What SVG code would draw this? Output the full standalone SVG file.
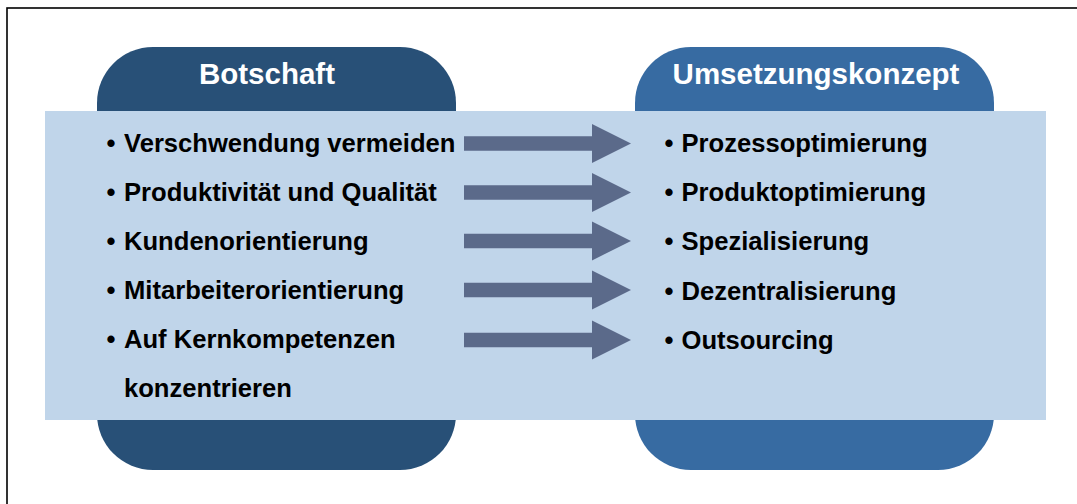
<svg xmlns="http://www.w3.org/2000/svg" width="1077" height="504" viewBox="0 0 1077 504">
<defs>
<style>
.item{font-family:"Liberation Sans",Arial,sans-serif;font-weight:bold;font-size:25.6px;fill:#000}
.title{font-family:"Liberation Sans",Arial,sans-serif;font-weight:bold;font-size:29.5px;fill:#fff}
.arrow{fill:#5B6A8A}
</style>
<path id="arr" d="M0,-7.3 H128 V-19.4 L167,0 L128,19.4 V7.3 H0 Z"/>
</defs>
<rect x="7" y="8" width="1080" height="510" fill="#fff" stroke="#000" stroke-width="1.6"/>
<g id="botschaft">
<rect x="97" y="47" width="359" height="423" rx="56" ry="56" fill="#285077"/>
</g>
<g id="umsetzungskonzept">
<rect x="635" y="47" width="359" height="423" rx="56" ry="56" fill="#376BA2"/>
</g>
<g id="band">
<rect x="45" y="111" width="1001" height="309" fill="#C0D5EA"/>
</g>
<text class="title" x="267" y="84" text-anchor="middle">Botschaft</text>
<text class="title" x="816" y="83.5" text-anchor="middle">Umsetzungskonzept</text>
<g id="left-items">
<text class="item" x="106.5" y="152">•<tspan x="124">Verschwendung vermeiden</tspan></text>
<text class="item" x="106.5" y="201">•<tspan x="124">Produktivität und Qualität</tspan></text>
<text class="item" x="106.5" y="249.5">•<tspan x="124">Kundenorientierung</tspan></text>
<text class="item" x="106.5" y="299">•<tspan x="124">Mitarbeiterorientierung</tspan></text>
<text class="item" x="106.5" y="348">•<tspan x="124">Auf Kernkompetenzen</tspan></text>
<text class="item" x="124" y="397">konzentrieren</text>
</g>
<g id="right-items">
<text class="item" x="664.5" y="152">•<tspan x="681.5">Prozessoptimierung</tspan></text>
<text class="item" x="664.5" y="201">•<tspan x="681.5">Produktoptimierung</tspan></text>
<text class="item" x="664.5" y="250">•<tspan x="681.5">Spezialisierung</tspan></text>
<text class="item" x="664.5" y="300">•<tspan x="681.5">Dezentralisierung</tspan></text>
<text class="item" x="664.5" y="349">•<tspan x="681.5">Outsourcing</tspan></text>
</g>
<g id="connectors" class="arrow">
<use href="#arr" x="464" y="143.5"/>
<use href="#arr" x="464" y="192.5"/>
<use href="#arr" x="464" y="241"/>
<use href="#arr" x="464" y="290"/>
<use href="#arr" x="464" y="340"/>
</g>
</svg>
